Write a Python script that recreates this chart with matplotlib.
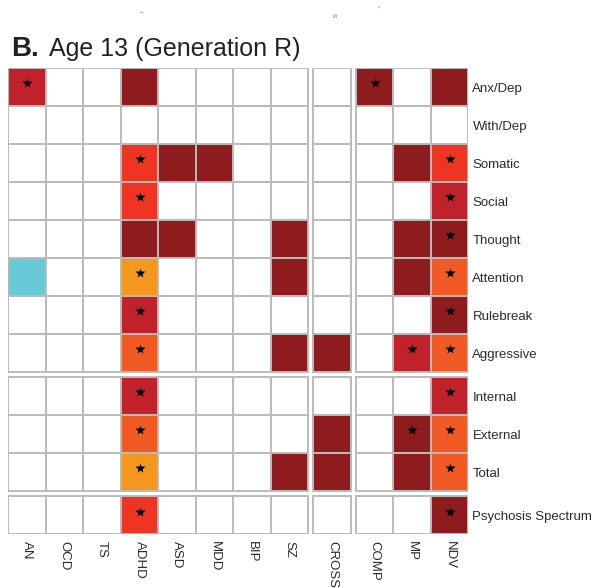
import matplotlib.pyplot as plt
import numpy as np
from matplotlib.colors import ListedColormap
from matplotlib.patches import Rectangle

plt.rcParams['font.family'] = ['Liberation Sans', 'DejaVu Sans']

diagnoses = ['AN', 'OCD', 'TS', 'ADHD', 'ASD', 'MDD', 'BIP', 'SZ',
             'CROSS', 'COMP', 'MP', 'NDV']
col_block = [0, 0, 0, 0, 0, 0, 0, 0, 1, 2, 2, 2]

scales = ['Anx/Dep', 'With/Dep', 'Somatic', 'Social', 'Thought', 'Attention',
          'Rulebreak', 'Aggressive', 'Internal', 'External', 'Total',
          'Psychosis Spectrum']
row_block = [0, 0, 0, 0, 0, 0, 0, 0, 1, 1, 1, 2]

# 0 none, 1..5 positive association (weak -> strong), 6 negative
level = np.array([
    [2, 0, 0, 1, 0, 0, 0, 0, 0, 1, 0, 1],
    [0, 0, 0, 0, 0, 0, 0, 0, 0, 0, 0, 0],
    [0, 0, 0, 3, 1, 1, 0, 0, 0, 0, 1, 3],
    [0, 0, 0, 3, 0, 0, 0, 0, 0, 0, 0, 2],
    [0, 0, 0, 1, 1, 0, 0, 1, 0, 0, 1, 1],
    [6, 0, 0, 5, 0, 0, 0, 1, 0, 0, 1, 4],
    [0, 0, 0, 2, 0, 0, 0, 0, 0, 0, 0, 1],
    [0, 0, 0, 4, 0, 0, 0, 1, 1, 0, 2, 4],
    [0, 0, 0, 2, 0, 0, 0, 0, 0, 0, 0, 2],
    [0, 0, 0, 4, 0, 0, 0, 0, 1, 0, 1, 4],
    [0, 0, 0, 5, 0, 0, 0, 1, 1, 0, 1, 4],
    [0, 0, 0, 3, 0, 0, 0, 0, 0, 0, 0, 1],
])

# significant after correction
signif = np.array([
    [1, 0, 0, 0, 0, 0, 0, 0, 0, 1, 0, 0],
    [0, 0, 0, 0, 0, 0, 0, 0, 0, 0, 0, 0],
    [0, 0, 0, 1, 0, 0, 0, 0, 0, 0, 0, 1],
    [0, 0, 0, 1, 0, 0, 0, 0, 0, 0, 0, 1],
    [0, 0, 0, 0, 0, 0, 0, 0, 0, 0, 0, 1],
    [0, 0, 0, 1, 0, 0, 0, 0, 0, 0, 0, 1],
    [0, 0, 0, 1, 0, 0, 0, 0, 0, 0, 0, 1],
    [0, 0, 0, 1, 0, 0, 0, 0, 0, 0, 1, 1],
    [0, 0, 0, 1, 0, 0, 0, 0, 0, 0, 0, 1],
    [0, 0, 0, 1, 0, 0, 0, 0, 0, 0, 1, 1],
    [0, 0, 0, 1, 0, 0, 0, 0, 0, 0, 0, 1],
    [0, 0, 0, 1, 0, 0, 0, 0, 0, 0, 0, 1],
])

cmap = ListedColormap(['#FFFFFF', '#8E1B1D', '#C1212A', '#EE3524',
                       '#F15A24', '#F4971F', '#68CAD6'])
gap = 0.133

xs = np.arange(len(diagnoses)) + gap * np.array(col_block)
ys = np.arange(len(scales)) + gap * np.array(row_block)

W, H = 597, 588
fig = plt.figure(figsize=(W / 100, H / 100), dpi=100)
ax = fig.add_axes([8.3 / W, 1 - 534.3 / H, 460 / W, 466 / H])

for r in range(len(scales)):
    for c in range(len(diagnoses)):
        ax.add_patch(Rectangle((xs[c], ys[r]), 1, 1,
                               facecolor=cmap(level[r, c]),
                               edgecolor='#BBBBBB', lw=1.4))
        if signif[r, c]:
            ax.plot(xs[c] + 0.5, ys[r] + 0.4, marker='*', color='black',
                    markersize=7, mec='none')

ax.set_xlim(0, xs[-1] + 1)
ax.set_ylim(ys[-1] + 1, 0)
for s in ax.spines.values():
    s.set_visible(False)

ax.set_xticks(xs + 0.5)
ax.set_xticklabels(diagnoses, rotation=270, fontsize=9.5, color='#2A2A2A')
ax.set_yticks(ys + 0.5)
ax.set_yticklabels(scales, fontsize=9.5, color='#2A2A2A')
ax.yaxis.tick_right()
ax.tick_params(length=0)
ax.tick_params(axis='x', pad=5)
ax.tick_params(axis='y', pad=3)

# panel heading
fig.text(11 / W, 1 - 56 / H, 'B.', fontsize=20, fontweight='bold',
         color='#222222', va='baseline')
fig.text(49 / W, 1 - 56 / H, 'Age 13 (Generation R)', fontsize=18,
         color='#222222', va='baseline')

# clipped remnants of the panel above
fig.text(141 / W, 1 - 12 / H, '-', fontsize=7, color='#777777',
         ha='center', va='center')
fig.text(333 / W, 1 - 15 / H, 's', fontsize=6, color='#777777',
         ha='center', va='center', rotation=270)
fig.text(378 / W, 1 - 11 / H, "'", fontsize=7, color='#777777',
         ha='center', va='center')

fig.savefig('out.png', dpi=100)
